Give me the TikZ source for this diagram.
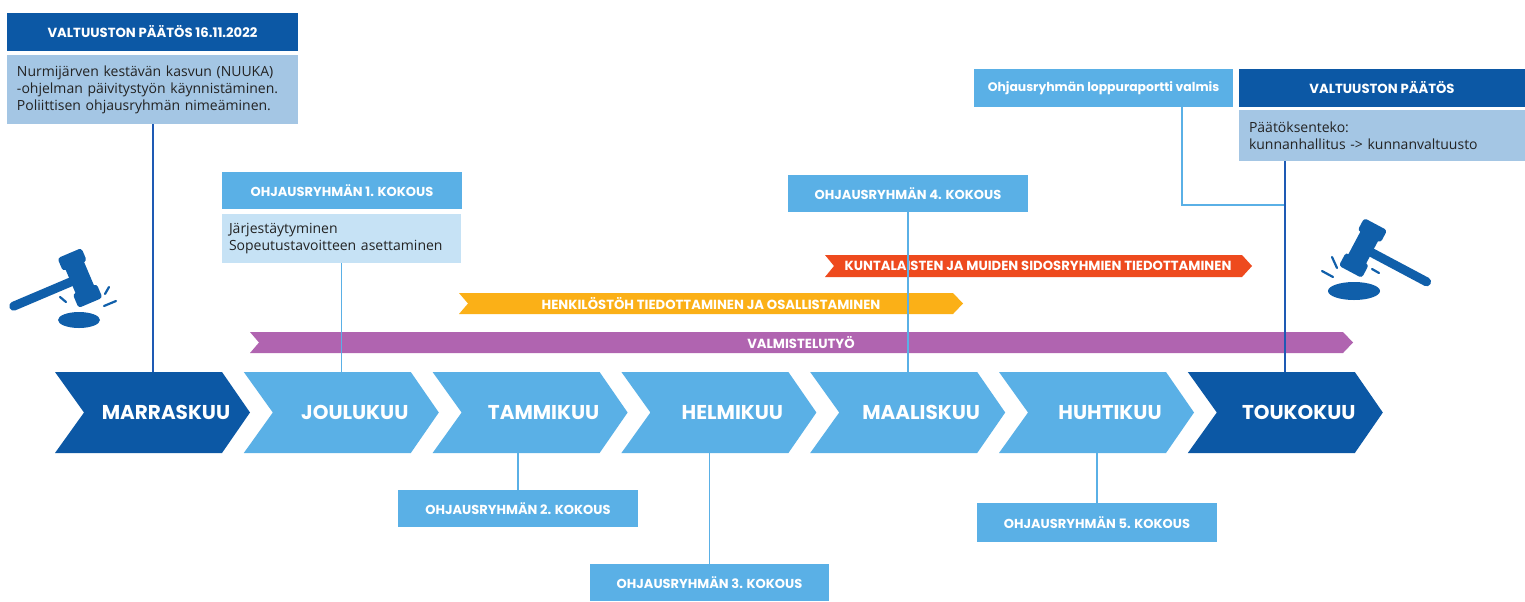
\documentclass[tikz,border=0pt]{standalone}
\usepackage{fontspec}
\setmainfont{Open Sans}
\newfontfamily\popfont{Poppins}
\usetikzlibrary{calc}
\definecolor{dkblue}{RGB}{12,88,165}
\definecolor{mdblue}{RGB}{90,176,230}
\definecolor{grayblue}{RGB}{164,198,228}
\definecolor{paleblue}{RGB}{198,226,245}
\definecolor{ribred}{RGB}{238,74,30}
\definecolor{riborange}{RGB}{251,176,23}
\definecolor{ribpurple}{RGB}{176,100,176}
\definecolor{linedark}{RGB}{30,90,180}
\definecolor{gavelblue}{RGB}{16,95,170}
\definecolor{txtdark}{RGB}{35,35,35}
\newcommand\gavelshape{%
  \draw[gavelblue,line width=4.5pt,line cap=round] (0,0) -- (-72,0);
  \fill[gavelblue] (-10,-22) rectangle (10,22);
  \fill[gavelblue,rounded corners=1.5pt] (-13,-27) rectangle (13,-13);
  \fill[gavelblue,rounded corners=1.5pt] (-13,12) rectangle (13,27);
}
\begin{document}
\begin{tikzpicture}[x=0.5pt,y=-0.5pt,
  darkhdr/.style={fill=dkblue,text=white,inner sep=0pt,font=\popfont\bfseries\fontsize{6.6}{8}\selectfont},
  midhdr/.style={fill=mdblue,text=white,inner sep=0pt,font=\popfont\bfseries\fontsize{6.5}{8}\selectfont},
  bodybox/.style={text=txtdark,inner ysep=0pt,align=left,font=\fontsize{7}{8.5}\selectfont},
  month/.style={text=white,inner sep=0pt,font=\popfont\bfseries\fontsize{10}{11}\selectfont},
  ribtext/.style={text=white,inner sep=0pt,font=\popfont\bfseries\fontsize{6.6}{8}\selectfont},
  darkline/.style={draw=linedark,line width=1pt},
  lightline/.style={draw=mdblue,line width=0.9pt}]
\useasboundingbox (0,0) rectangle (1525,601);
\fill[white] (0,0) rectangle (1525,601);

% ribbons
\fill[ribpurple] (250,332) -- (1343,332) -- (1353,342.5) -- (1343,353) -- (250,353) -- (259,342.5) -- cycle;
\node[ribtext] (rp) at (801,342.5) {VALMISTELUTYÖ};
\fill[riborange] (459,293) -- (953,293) -- (963,303.5) -- (953,314) -- (459,314) -- (468,303.5) -- cycle;
\node[ribtext] (ro) at (711,303.5) {HENKILÖSTÖH TIEDOTTAMINEN JA OSALLISTAMINEN};
\fill[ribred] (825,255) -- (1242,255) -- (1252,266) -- (1242,277) -- (825,277) -- (834,266) -- cycle;
\node[ribtext] (rr) at (1038,266) {KUNTALAISTEN JA MUIDEN SIDOSRYHMIEN TIEDOTTAMINEN};

% chevrons
\foreach \i/\lab/\col in {0/MARRASKUU/dkblue,1/JOULUKUU/mdblue,2/TAMMIKUU/mdblue,3/HELMIKUU/mdblue,4/MAALISKUU/mdblue,5/HUHTIKUU/mdblue,6/TOUKOKUU/dkblue}{
  \pgfmathsetmacro\xo{55+188.8*\i}
  \fill[\col] (\xo,372) -- ++(167,0) -- ++(28,40.5) -- ++(-28,40.5) -- ++(-167,0) -- ++(29,-40.5) -- cycle;
  \node[month] (m\i) at (\xo+111,412.5) {\lab};
}
\coordinate (ctop) at (0,372);
\coordinate (cbot) at (0,453);

% boxes
\node[darkhdr,minimum width=145.5pt,minimum height=19pt] (A) at (152.5,32) {VALTUUSTON PÄÄTÖS 16.11.2022};
\node[bodybox,fill=grayblue,inner xsep=5pt,text width=135.5pt,minimum height=34.5pt] (B) at (152.5,89.5)
  {Nurmijärven kestävän kasvun (NUUKA)\\-ohjelman päivitystyön käynnistäminen.\\Poliittisen ohjausryhmän nimeäminen.};
\node[midhdr,minimum width=120pt,minimum height=18.5pt] (C) at (342,190.5) {OHJAUSRYHMÄN 1. KOKOUS};
\node[bodybox,fill=paleblue,inner xsep=3.5pt,text width=112.5pt,minimum height=24.5pt] (D) at (341.5,238.5)
  {Järjestäytyminen\\Sopeutustavoitteen asettaminen};
\node[midhdr,minimum width=120pt,minimum height=18.5pt] (E) at (908,193.5) {OHJAUSRYHMÄN 4. KOKOUS};
\node[midhdr,minimum width=129.5pt,minimum height=19pt,font=\popfont\bfseries\fontsize{6.2}{7}\selectfont] (F) at (1103.5,88) {Ohjausryhmän loppuraportti valmis};
\node[darkhdr,minimum width=143pt,minimum height=19pt] (G) at (1382,88) {VALTUUSTON PÄÄTÖS};
\node[bodybox,fill=grayblue,inner xsep=5pt,text width=133pt,minimum height=25.5pt] (H) at (1382,135.5)
  {Päätöksenteko:\\kunnanhallitus -> kunnanvaltuusto};
\node[midhdr,minimum width=120pt,minimum height=18.5pt] (I) at (518,508.5) {OHJAUSRYHMÄN 2. KOKOUS};
\node[midhdr,minimum width=119.5pt,minimum height=18.5pt] (J) at (709.5,582.5) {OHJAUSRYHMÄN 3. KOKOUS};
\node[midhdr,minimum width=120pt,minimum height=19.5pt] (K) at (1097,522.5) {OHJAUSRYHMÄN 5. KOKOUS};

% connectors
\coordinate (hx) at (1285,0);
\coordinate (fj) at (1182,205);
\draw[darkline] (B.south) -- (B.south |- ctop);
\draw[lightline] (D.south) -- (D.south |- ctop);
\draw[lightline] (E.south) -- (E.south |- ctop);
\draw[lightline] (I.north) -- (I.north |- cbot);
\draw[lightline] (J.north) -- (J.north |- cbot);
\draw[lightline] (K.north) -- (K.north |- cbot);
\draw[lightline] (F.south -| fj) -- (fj) -- (fj -| hx);
\draw[darkline] (H.south -| hx) -- (hx |- ctop);

% gavels
\begin{scope}[shift={(80,278)},rotate=23]
  \gavelshape
\end{scope}
\fill[gavelblue] (79,320) ellipse [x radius=21, y radius=8];
\begin{scope}[gavelblue,line width=1.1pt,line cap=round]
  \draw (60,297) -- (66,302);
  \draw (109,287) -- (105,294);
  \draw (116,301) -- (104,306);
\end{scope}
\begin{scope}[shift={(1363,248)},xscale=-1,rotate=28]
  \gavelshape
\end{scope}
\fill[gavelblue] (1354,291) ellipse [x radius=26, y radius=9];
\begin{scope}[gavelblue,line width=1.1pt,line cap=round]
  \draw (1322,271) -- (1333,277);
  \draw (1332,257) -- (1337,268);
  \draw (1372,269) -- (1379,273);
\end{scope}
\end{tikzpicture}
\end{document}
